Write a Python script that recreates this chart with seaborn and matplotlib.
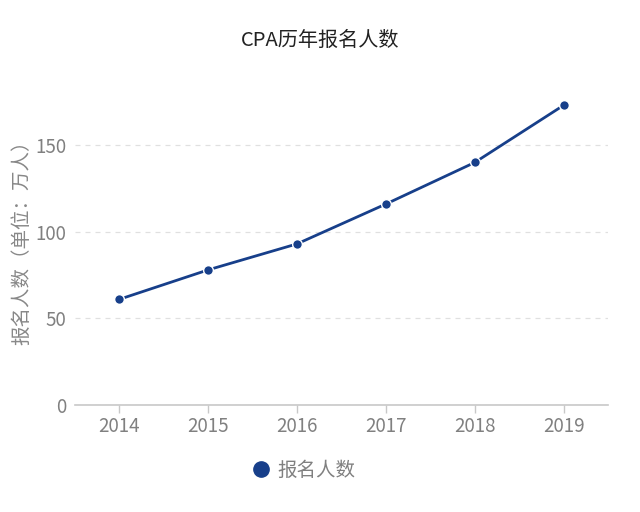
import matplotlib
matplotlib.use("Agg")
import matplotlib.pyplot as plt
import seaborn as sns
import pandas as pd
from matplotlib.lines import Line2D

years = ["2014", "2015", "2016", "2017", "2018", "2019"]
applicants = [61, 78, 93, 116, 140, 173]
series_name = "报名人数"
title = "CPA历年报名人数"
ylabel = "报名人数（单位：万人）"
yticks = [0, 50, 100, 150]

sns.set_theme(style="white")
plt.rcParams['font.family'] = ['Noto Sans CJK SC', 'DejaVu Sans']

df = pd.DataFrame({"year": years, "value": applicants})
color = "#173f8a"

fig = plt.figure(figsize=(6.4, 5.12), dpi=100)
ax = fig.add_axes([0.117, 0.209, 0.833, 0.609])

sns.lineplot(data=df, x="year", y="value", ax=ax, color=color, linewidth=2,
             marker="o", markersize=7, markeredgecolor="white", markeredgewidth=1,
             legend=False)

ax.set_xlim(-0.5, len(years) - 0.5)
ax.set_ylim(0, 180)
ax.set_yticks(yticks)
ax.set_yticklabels([str(t) for t in yticks])
ax.grid(axis="y", linestyle=(0, (4, 4)), color="#e0e0e0", linewidth=0.9)
ax.grid(axis="x", visible=False)
ax.set_axisbelow(True)

for s in ["top", "right", "left"]:
    ax.spines[s].set_visible(False)
ax.spines["bottom"].set_color("#c8c8c8")
ax.spines["bottom"].set_linewidth(1.2)

ax.tick_params(axis="x", colors="#808080", labelsize=13.5, length=6, width=1,
               direction="out", pad=2, bottom=True)
ax.tick_params(axis="x", color="#c8c8c8")
ax.tick_params(axis="y", colors="#808080", labelsize=13.5, length=0, pad=6)

ax.set_xlabel("")
ax.set_ylabel(ylabel, color="#888888", fontsize=14)
ax.yaxis.set_label_coords(-0.08, 0.535)

fig.text(0.5, 0.922, title, ha="center", va="center", fontsize=14.5, color="#222222")

handle = Line2D([0], [0], marker="o", color="none", markerfacecolor=color,
                markeredgecolor=color, markersize=11)
fig.legend([handle], [series_name], loc="center", bbox_to_anchor=(0.474, 0.082),
           frameon=False, fontsize=14, labelcolor="#808080", handletextpad=0.3,
           handlelength=1.0)

fig.savefig("out.png", dpi=100)
